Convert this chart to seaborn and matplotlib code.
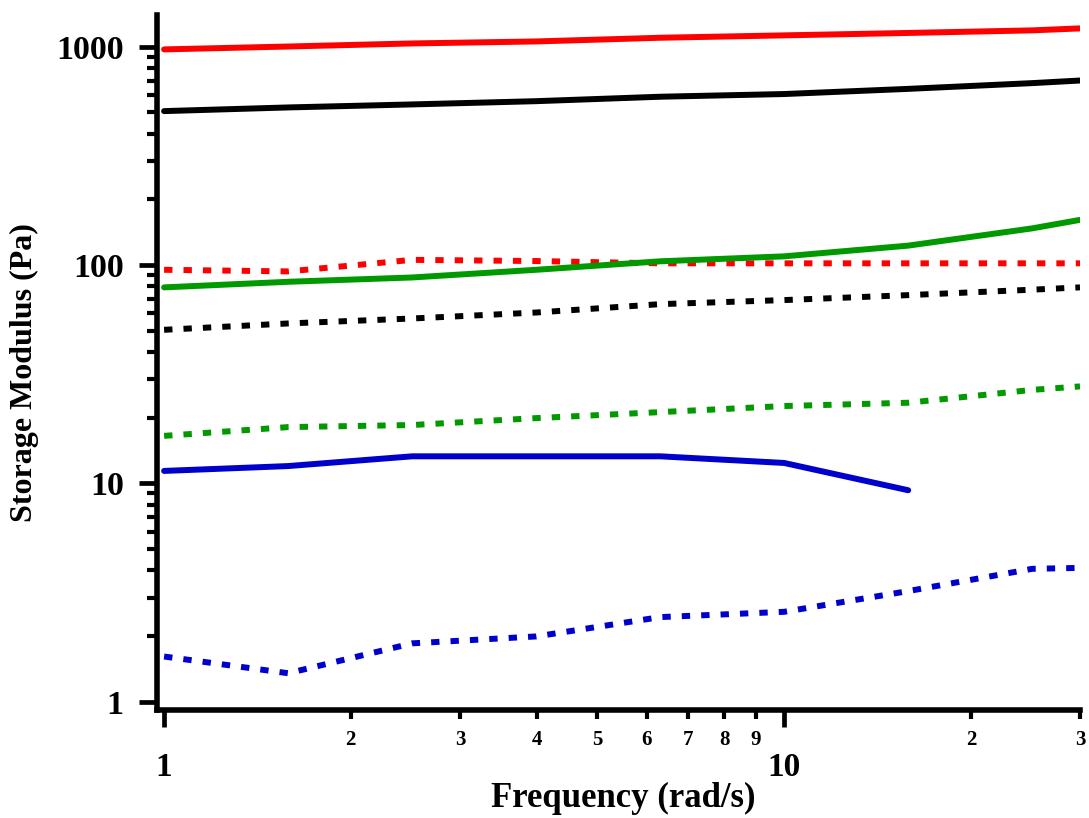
import numpy as np
import pandas as pd
import seaborn as sns
import matplotlib.pyplot as plt
import matplotlib.ticker as ticker

# frequency sweep points (rad/s)
freq = [1.0, 1.585, 2.512, 3.981, 6.310, 10.0, 15.85, 25.12, 30.0]
freq_short = freq[:7]

# storage modulus (Pa)
red_solid = [972, 1002, 1035, 1057, 1099, 1127, 1156, 1188, 1213]
black_solid = [507, 527, 544, 563, 590, 607, 641, 681, 700]
green_solid = [79.0, 83.8, 87.7, 95.1, 104, 109.6, 122.7, 147.2, 161]
blue_solid = [11.4, 12.0, 13.3, 13.3, 13.3, 12.4, 9.3]

red_dotted = [95.1, 93.5, 105.6, 104.3, 101.8, 101.8, 101.8, 101.8, 101.8]
black_dotted = [50.5, 54.0, 56.9, 60.6, 66.2, 69.1, 72.8, 77.1, 79.0]
green_dotted = [16.5, 18.1, 18.5, 19.9, 21.2, 22.6, 23.4, 26.8, 27.8]
blue_dotted = [1.61, 1.35, 1.85, 1.99, 2.44, 2.58, 3.21, 4.06, 4.10]

x_minor_ticks = [2, 3, 4, 5, 6, 7, 8, 9, 20, 30]
x_minor_labels = ['2', '3', '4', '5', '6', '7', '8', '9', '2', '3']

sns.set_style('ticks')
plt.rcParams['font.family'] = ['Liberation Serif', 'DejaVu Serif']
plt.rcParams['font.weight'] = 'bold'
plt.rcParams['text.color'] = 'black'
plt.rcParams['axes.labelcolor'] = 'black'
plt.rcParams['xtick.color'] = 'black'
plt.rcParams['ytick.color'] = 'black'

fig = plt.figure(figsize=(10.89, 8.18), dpi=100)
ax = fig.add_axes([157 / 1089, 1 - 710 / 818, (1080 - 157) / 1089, (710 - 15) / 818])

lw = 4.3
dot = (0, (1.4, 1.85))
series = [
    (freq, red_dotted, '#FF0000', dot),
    (freq, black_dotted, '#000000', dot),
    (freq, green_dotted, '#009900', dot),
    (freq, blue_dotted, '#0000CC', dot),
    (freq, red_solid, '#FF0000', '-'),
    (freq, black_solid, '#000000', '-'),
    (freq, green_solid, '#009900', '-'),
    (freq_short, blue_solid, '#0000CC', '-'),
]
for xs, ys, col, ls in series:
    sns.lineplot(x=xs, y=ys, color=col, linestyle=ls, linewidth=lw, ax=ax)

ax.set_xscale('log')
ax.set_yscale('log')
ax.set_xlim(0.974, 30)
ax.set_ylim(0.916, 1397)

# x ticks
ax.xaxis.set_major_locator(ticker.FixedLocator([1, 10]))
ax.xaxis.set_major_formatter(ticker.FixedFormatter(['1', '10']))
ax.xaxis.set_minor_locator(ticker.FixedLocator(x_minor_ticks))
ax.xaxis.set_minor_formatter(ticker.FixedFormatter(x_minor_labels))
ax.tick_params(axis='x', which='major', length=12.5, width=3.4, pad=18, labelsize=24, colors='black')
ax.tick_params(axis='x', which='minor', length=6.5, width=3.0, pad=8, labelsize=15, colors='black')

# y ticks
ax.yaxis.set_major_locator(ticker.FixedLocator([1, 10, 100, 1000]))
ax.yaxis.set_major_formatter(ticker.FixedFormatter(['1', '10', '100', '1000']))
ax.yaxis.set_minor_locator(ticker.LogLocator(base=10, subs=np.arange(2, 10)))
ax.yaxis.set_minor_formatter(ticker.NullFormatter())
ax.tick_params(axis='y', which='major', length=13, width=3.4, pad=11, labelsize=24.5, colors='black')
ax.tick_params(axis='y', which='minor', length=7, width=3.0, colors='black')

for lab in ax.get_xticklabels(which='both') + ax.get_yticklabels():
    lab.set_fontweight('bold')

for side in ['top', 'right']:
    ax.spines[side].set_visible(False)
for side in ['left', 'bottom']:
    ax.spines[side].set_linewidth(4)
    ax.spines[side].set_color('black')

ax.set_xlabel('Frequency (rad/s)', fontsize=25, fontweight='bold', color='black')
ax.set_ylabel('Storage Modulus (Pa)', fontsize=23, fontweight='bold', color='black')
ax.xaxis.set_label_coords(0.505, -0.104)
ax.yaxis.set_label_coords(-0.128, 0.486)

fig.savefig('out.png', dpi=100)
